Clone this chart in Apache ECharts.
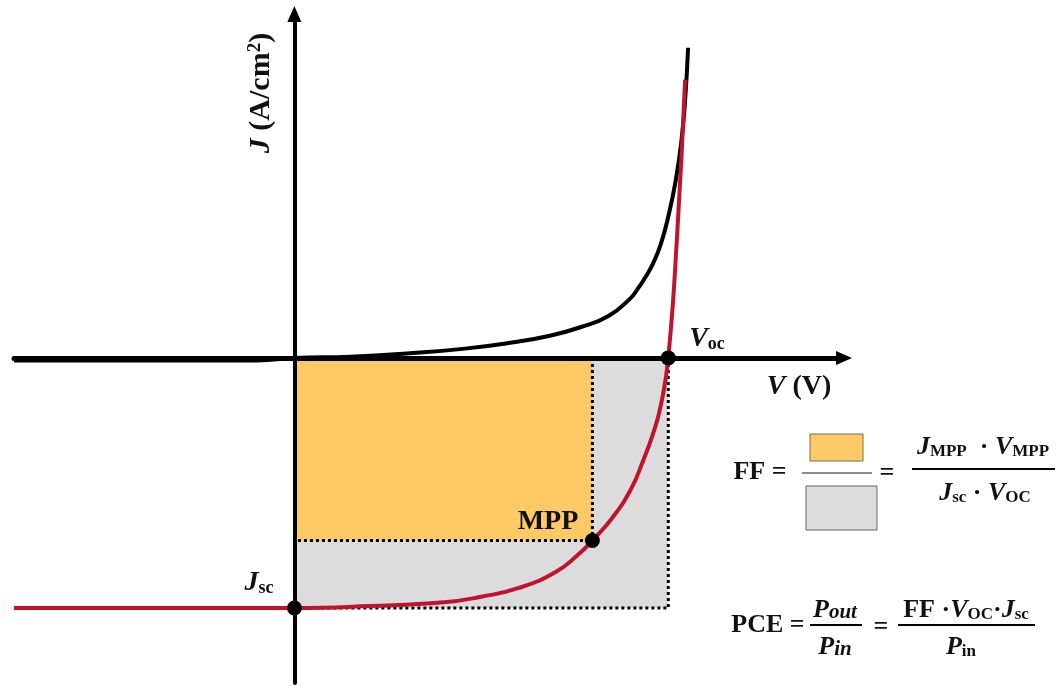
<!DOCTYPE html>
<html>
<head>
<meta charset="utf-8">
<script src="https://cdn.jsdelivr.net/npm/echarts@6/dist/echarts.min.js"></script>
<style>
  html, body { margin: 0; padding: 0; background: #fff; }
  #main { width: 1064px; height: 686px; }
</style>
</head>
<body>
<div id="main"></div>
<script>
// dark J-V curve (V in units of Voc, J in mA/cm2-like units)
var darkV = [-0.75, -0.1, 0, 0.15, 0.3, 0.45, 0.586, 0.68, 0.765, 0.84, 0.9, 0.92, 0.94, 0.96, 0.98, 1.0, 1.02, 1.035, 1.045, 1.053];
var darkJ = [-0.2, -0.2, 0, 0.1, 0.35, 0.72, 1.25, 1.75, 2.45, 3.35, 4.8, 5.6, 6.5, 7.6, 9.1, 11.3, 14.2, 17.3, 20.6, 24.8];
// illuminated J-V curve
var lightV = [-0.75, 0, 0.2, 0.4, 0.5, 0.6, 0.7, 0.76, 0.797, 0.85, 0.9, 0.933, 0.96, 0.98, 1.0, 1.024, 1.045];
var lightJ = [-20, -20, -19.85, -19.55, -19.1, -18.4, -17.1, -15.7, -14.6, -12.8, -10.5, -8.2, -6, -3.8, 0, 10, 22.24];
// key points
var vMpp = 0.797, jMpp = -14.6;
var vOc = 1.0, jSc = -20;

var FONT = 'Liberation Serif';

function pairs(xs, ys) {
  return xs.map(function (x, i) { return [x, ys[i]]; });
}

function rich(size) {
  var base = { fontFamily: FONT, fontWeight: 'bold', fill: '#111', color: '#111' };
  function mk(o) { var r = {}; for (var k in base) r[k] = base[k]; for (var k2 in o) r[k2] = o[k2]; return r; }
  return {
    it: mk({ fontSize: size, fontStyle: 'italic' }),
    rm: mk({ fontSize: size }),
    sub: mk({ fontSize: Math.round(size * 0.66), verticalAlign: 'bottom' }),
    subit: mk({ fontSize: Math.round(size * 0.8), fontStyle: 'italic', verticalAlign: 'bottom' }),
    sup: mk({ fontSize: Math.round(size * 0.62), verticalAlign: 'top' })
  };
}

function txt(x, y, s, size, rot) {
  return {
    type: 'text', x: x, y: y, rotation: rot || 0, z: 20,
    style: {
      text: s, rich: rich(size),
      align: 'center', verticalAlign: 'middle',
      textAlign: 'center', textVerticalAlign: 'middle',
      fill: '#111'
    }
  };
}

function hline(x1, x2, y, color, w) {
  return { type: 'line', z: 20, shape: { x1: x1, y1: y, x2: x2, y2: y }, style: { stroke: color, lineWidth: w } };
}

var myChart = echarts.init(document.getElementById('main'));

var option = {
  animation: false,
  backgroundColor: '#ffffff',
  grid: { left: 14, right: 220, top: 14, bottom: 3 },
  xAxis: {
    type: 'value', min: -0.75, max: 1.47, z: 3,
    axisLine: { onZero: true, symbol: ['none', 'triangle'], symbolSize: [14, 16], lineStyle: { color: '#000', width: 5 } },
    axisTick: { show: false }, axisLabel: { show: false }, splitLine: { show: false }
  },
  yAxis: {
    type: 'value', min: -26, max: 27.5, z: 3,
    axisLine: { onZero: true, symbol: ['none', 'triangle'], symbolSize: [14, 16], lineStyle: { color: '#000', width: 4 } },
    axisTick: { show: false }, axisLabel: { show: false }, splitLine: { show: false }
  },
  series: [
    {
      // shaded power rectangles
      type: 'line', data: [], silent: true,
      markArea: {
        silent: true,
        data: [
          [{ coord: [0, 0], itemStyle: { color: '#DCDCDC' } }, { coord: [vOc, jSc] }],
          [{ coord: [0, 0], itemStyle: { color: '#FFC966' } }, { coord: [vMpp, jMpp] }]
        ]
      }
    },
    {
      type: 'line', data: [[vOc, 0], [vOc, jSc], [0, jSc]], symbol: 'none', z: 2,
      lineStyle: { color: '#000', width: 3, type: [3, 3], cap: 'butt' }
    },
    {
      type: 'line', data: [[vMpp, 0], [vMpp, jMpp], [0, jMpp]], symbol: 'none', z: 2,
      lineStyle: { color: '#000', width: 3, type: [3, 3], cap: 'butt' }
    },
    {
      name: 'dark', type: 'line', data: pairs(darkV, darkJ), symbol: 'none', z: 4,
      smooth: 0.5,
      lineStyle: { color: '#000', width: 4 }
    },
    {
      name: 'light', type: 'line', data: pairs(lightV, lightJ), symbol: 'none', z: 4,
      smooth: 0.5,
      lineStyle: { color: '#C0142E', width: 4 }
    },
    {
      type: 'scatter', z: 6, symbolSize: 15,
      data: [[0, jSc], [vMpp, jMpp], [vOc, 0]],
      itemStyle: { color: '#000', opacity: 1 }
    }
  ],
  graphic: [
    txt(261, 93, '{it|J}{rm| (A/cm}{sup|2}{rm|)}', 30, Math.PI / 2),
    txt(799, 387, '{it|V}{rm| (V)}', 28),
    txt(707, 339, '{it|V}{sub|oc}', 28),
    txt(259, 583, '{it|J}{sub|sc}', 28),
    txt(548, 522, '{rm|MPP}', 28),
    // FF formula
    txt(760, 472, '{rm|FF =}', 26),
    { type: 'rect', z: 20, shape: { x: 810, y: 434, width: 53, height: 27 }, style: { fill: '#FFC966', stroke: '#7a6a4a', lineWidth: 1 } },
    hline(802, 872, 473, '#666', 1.5),
    { type: 'rect', z: 20, shape: { x: 806, y: 486, width: 71, height: 44 }, style: { fill: '#DCDCDC', stroke: '#666', lineWidth: 1 } },
    txt(887, 473, '{rm|=}', 26),
    txt(983, 447, '{it|J}{sub|MPP}{rm|  · }{it|V}{sub|MPP}', 26),
    hline(912, 1055, 469, '#000', 2),
    txt(985, 493, '{it|J}{sub|sc}{rm| · }{it|V}{sub|OC}', 26),
    // PCE formula
    txt(768, 625, '{rm|PCE =}', 26),
    txt(835, 610, '{it|P}{subit|out}', 26),
    hline(810, 862, 625, '#000', 2),
    txt(835, 647, '{it|P}{subit|in}', 26),
    txt(881, 627, '{rm|=}', 26),
    txt(966, 610, '{rm|FF ·}{it|V}{sub|OC}{rm|·}{it|J}{sub|sc}', 26),
    hline(898, 1035, 625, '#000', 2),
    txt(961, 647, '{it|P}{sub|in}', 26)
  ]
};

myChart.setOption(option);
</script>
</body>
</html>
